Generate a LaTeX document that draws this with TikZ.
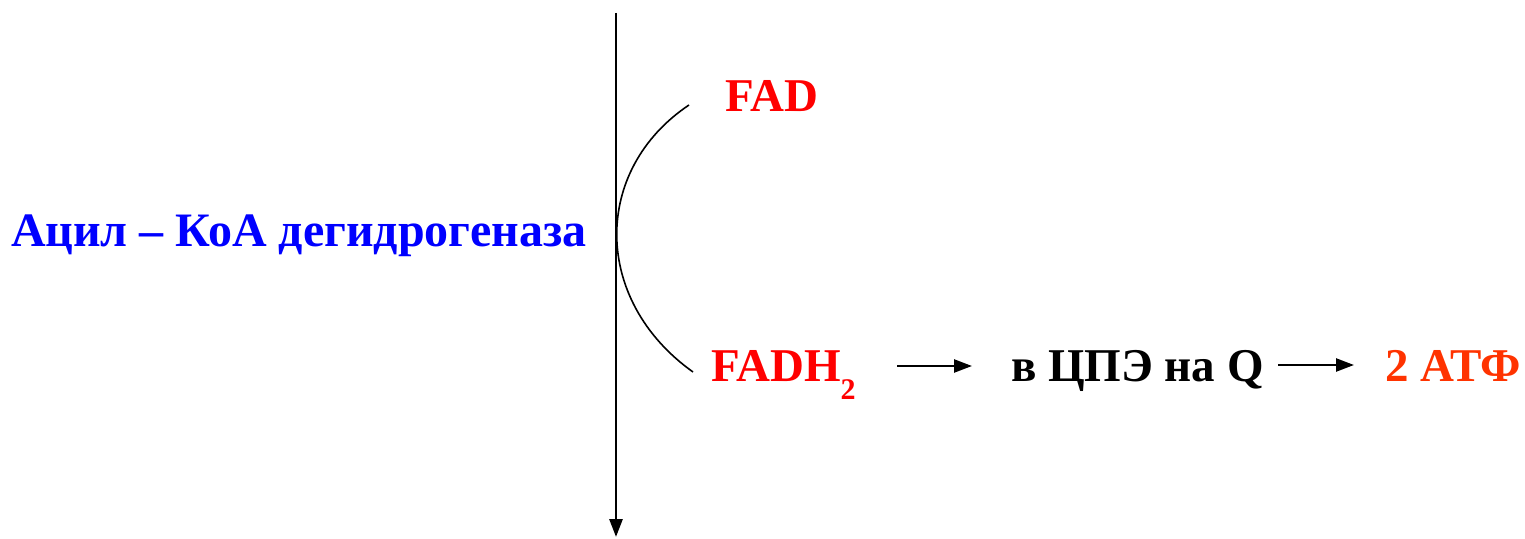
\documentclass[tikz,border=0pt]{standalone}
\usepackage{fontspec}
\setmainfont{Liberation Serif}
\usetikzlibrary{arrows.meta}
\definecolor{myblue}{RGB}{0,0,255}
\definecolor{myred}{RGB}{255,0,0}
\definecolor{myorange}{RGB}{255,51,0}
\begin{document}
\begin{tikzpicture}[x=1pt,y=1pt,
  lbl/.style={inner sep=0pt,outer sep=0pt,anchor=base west,font=\fontsize{47}{56}\selectfont\bfseries},
  conn/.style={line width=2.4pt,-{Triangle[length=18pt,width=13pt]}}]
\useasboundingbox (0,0) rectangle (1525,538);
% vertical reaction arrow
\coordinate (vtop) at (616,525);
\coordinate (vbot) at (616,1);
\draw[line width=2.8pt,-{Triangle[length=18pt,width=13pt]}] (vtop) -- (vbot);
% enzyme label
\node[lbl,font=\fontsize{48}{58}\selectfont\bfseries,text=myblue] (enz) at (11,291) {Ацил – КоА дегидрогеназа};
% cofactors
\node[lbl,text=myred] (fad) at (725,426) {FAD};
\node[lbl,text=myred] (fadh) at (711,156) {FADH\raisebox{-18pt}{\fontsize{30}{36}\selectfont 2}};
\coordinate (arcs) at (689,433);
\coordinate (arce) at (693,166);
\draw[line width=1.6pt] (arcs) .. controls (592,368) and (592,238) .. (arce);
% chain
\node[lbl,text=black] (cpe) at (1011,156) {в ЦПЭ на Q};
\node[lbl,text=myorange] (atf) at (1385,156) {2 АТФ};
\coordinate (a1s) at (897,172);
\coordinate (a1e) at (972,172);
\coordinate (a2s) at (1278,173);
\coordinate (a2e) at (1354,173);
\draw[conn] (a1s) -- (a1e);
\draw[conn] (a2s) -- (a2e);
\end{tikzpicture}
\end{document}
